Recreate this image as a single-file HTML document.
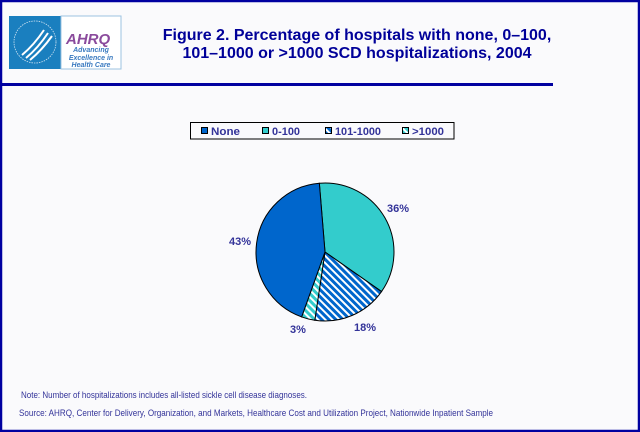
<!DOCTYPE html>
<html><head><meta charset="utf-8"><style>
html,body{margin:0;padding:0;background:#fafafc;}
svg{display:block;}
text{font-family:"Liberation Sans",Arial,sans-serif;}
</style></head><body>
<svg width="640" height="432" viewBox="0 0 640 432" xmlns="http://www.w3.org/2000/svg">
<defs>
<pattern id="p1" patternUnits="userSpaceOnUse" width="5" height="5" patternTransform="rotate(-45)">
<rect width="5" height="5" fill="#ffffff"/><rect width="3" height="5" fill="#0066cc"/>
</pattern>
<pattern id="p2" patternUnits="userSpaceOnUse" width="5" height="5" patternTransform="rotate(-45)">
<rect width="5" height="5" fill="#ffffff"/><rect width="3" height="5" fill="#33cccc"/>
</pattern>
</defs>
<rect x="0" y="0" width="640" height="432" fill="#fafafc"/>
<rect x="1" y="1" width="638" height="430" fill="none" stroke="#0000a0" stroke-width="2.5"/>
<rect x="2" y="83" width="551" height="3" fill="#0000a0"/>
<!-- logo -->
<rect x="9" y="16" width="52" height="53" fill="#1a7fbf"/>
<rect x="61" y="16" width="60" height="53" fill="#ffffff" stroke="#9cc3e0" stroke-width="1"/>
<path d="M22 55 Q34 45 44 30 M26 58 Q38 48 48 33 M30 60 Q42 50 52 36" stroke="#fff" stroke-width="2" fill="none"/>
<circle cx="35" cy="42" r="21" fill="none" stroke="#cfe3f2" stroke-width="0.8" stroke-dasharray="1.5 1"/>
<text x="66" y="44" font-size="15" font-weight="bold" font-style="italic" fill="#8a4a9c">AHRQ</text>
<text x="91" y="52" font-size="7" font-style="italic" font-weight="bold" fill="#3a7ac0" text-anchor="middle">Advancing</text>
<text x="91" y="60" font-size="7" font-style="italic" font-weight="bold" fill="#3a7ac0" text-anchor="middle">Excellence in</text>
<text x="91" y="67" font-size="7" font-style="italic" font-weight="bold" fill="#3a7ac0" text-anchor="middle">Health Care</text>
<!-- title -->
<text x="357" y="40" font-size="16" font-weight="bold" fill="#000099" text-anchor="middle">Figure 2. Percentage of hospitals with none, 0–100,</text>
<text x="357" y="58" font-size="16" font-weight="bold" fill="#000099" text-anchor="middle">101–1000 or &gt;1000 SCD hospitalizations, 2004</text>
<!-- legend -->
<rect x="190.5" y="122.5" width="263.5" height="16.5" fill="#fafafc" stroke="#000" stroke-width="1"/>
<rect x="201.5" y="127.5" width="6" height="6" fill="#0066cc" stroke="#000"/>
<text x="211" y="135" font-size="11" font-weight="bold" fill="#333399" textLength="29" lengthAdjust="spacingAndGlyphs">None</text>
<rect x="262.5" y="127.5" width="6" height="6" fill="#33cccc" stroke="#000"/>
<text x="272" y="135" font-size="11" font-weight="bold" fill="#333399" textLength="28" lengthAdjust="spacingAndGlyphs">0-100</text>
<rect x="325.5" y="127.5" width="6" height="6" fill="url(#p1)" stroke="#000"/>
<text x="335" y="135" font-size="11" font-weight="bold" fill="#333399" textLength="46" lengthAdjust="spacingAndGlyphs">101-1000</text>
<rect x="402.5" y="127.5" width="6" height="6" fill="url(#p2)" stroke="#000"/>
<text x="412" y="135" font-size="11" font-weight="bold" fill="#333399" textLength="32" lengthAdjust="spacingAndGlyphs">&gt;1000</text>
<!-- pie -->
<g stroke="#000" stroke-width="1">
<path d="M325 252 L319.35 183.24 A69 69 0 0 1 381.52 291.58 Z" fill="#33cccc"/>
<path d="M325 252 L381.52 291.58 A69 69 0 0 1 314.80 320.24 Z" fill="url(#p1)"/>
<path d="M325 252 L314.80 320.24 A69 69 0 0 1 301.63 316.92 Z" fill="url(#p2)"/>
<path d="M325 252 L301.63 316.92 A69 69 0 0 1 319.35 183.24 Z" fill="#0066cc"/>
</g>
<text x="398" y="212" font-size="11" font-weight="bold" fill="#333399" text-anchor="middle">36%</text>
<text x="240" y="245" font-size="11" font-weight="bold" fill="#333399" text-anchor="middle">43%</text>
<text x="365" y="331" font-size="11" font-weight="bold" fill="#333399" text-anchor="middle">18%</text>
<text x="298" y="333" font-size="11" font-weight="bold" fill="#333399" text-anchor="middle">3%</text>
<!-- notes -->
<text x="21" y="398" font-size="9.5" fill="#333399" textLength="286" lengthAdjust="spacingAndGlyphs">Note: Number of hospitalizations includes all-listed sickle cell disease diagnoses.</text>
<text x="19" y="416" font-size="9.5" fill="#333399" textLength="474" lengthAdjust="spacingAndGlyphs">Source: AHRQ, Center for Delivery, Organization, and Markets, Healthcare Cost and Utilization Project, Nationwide Inpatient Sample</text>
</svg>
</body></html>
